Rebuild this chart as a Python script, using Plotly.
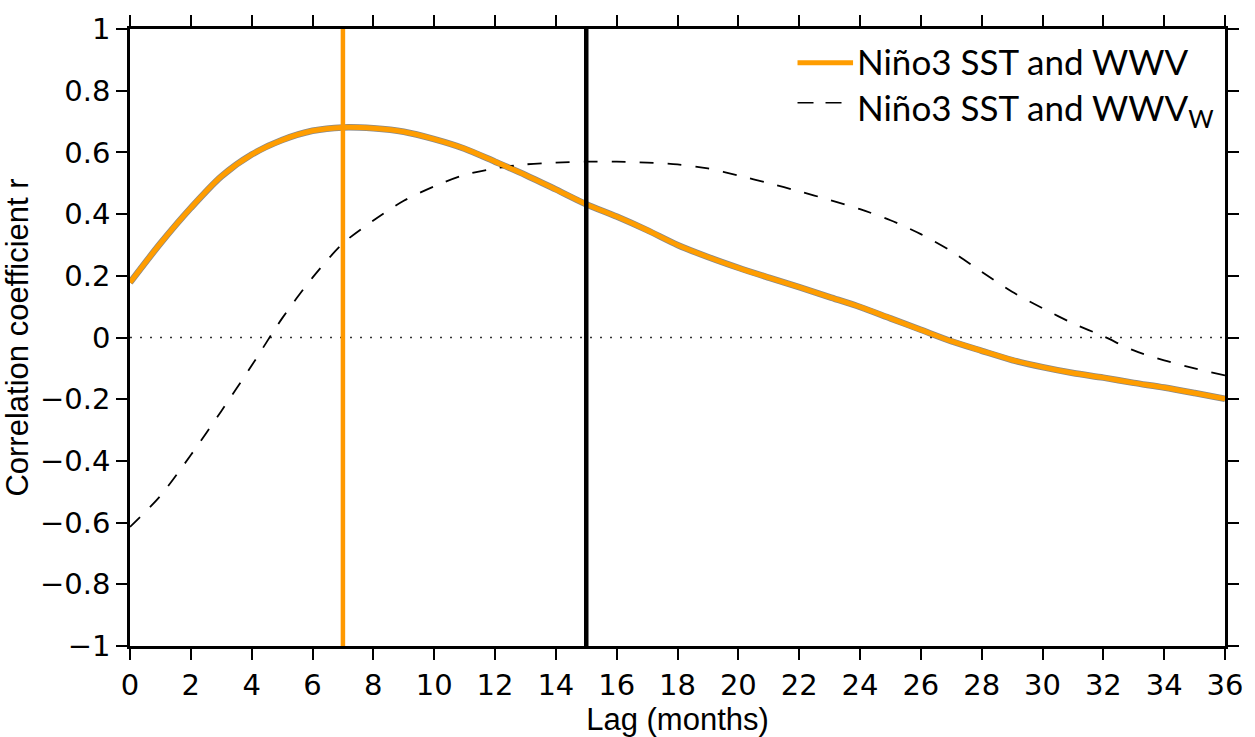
import plotly.graph_objects as go

# ---- data ----
lags = list(range(0, 37))
r_wwv = [0.178, 0.305, 0.42, 0.522, 0.593, 0.64, 0.67, 0.681, 0.678, 0.667,
         0.643, 0.612, 0.57, 0.527, 0.48, 0.432, 0.392, 0.348, 0.30, 0.261,
         0.226, 0.194, 0.163, 0.131, 0.099, 0.062, 0.025, -0.012, -0.043, -0.073,
         -0.096, -0.115, -0.13, -0.147, -0.162, -0.18, -0.199]
r_wwvw = [-0.614, -0.513, -0.381, -0.239, -0.091, 0.062, 0.194, 0.305, 0.379, 0.443,
          0.49, 0.527, 0.548, 0.561, 0.567, 0.57, 0.57, 0.567, 0.561, 0.548,
          0.525, 0.50, 0.474, 0.446, 0.416, 0.38, 0.335, 0.28, 0.213, 0.148,
          0.095, 0.046, 0.004, -0.042, -0.074, -0.100, -0.123]
peak_lag_wwv = 7
peak_lag_wwvw = 15
x_ticks = list(range(0, 37, 2))
y_ticks = [1, 0.8, 0.6, 0.4, 0.2, 0, -0.2, -0.4, -0.6, -0.8, -1]
y_tick_text = ["1", "0.8", "0.6", "0.4", "0.2", "0", "\u22120.2", "\u22120.4",
               "\u22120.6", "\u22120.8", "\u22121"]
legend_labels = ["Niño3 SST and WWV", "Niño3 SST and WWV<sub>W</sub>"]

ORANGE = "#FF9D00"
TICK_FONT = dict(family="DejaVu Sans, Liberation Sans, sans-serif", size=29, color="black")
TITLE_FONT = dict(family="Liberation Sans, Arial, sans-serif", size=31, color="black")

fig = go.Figure()

# zero reference line (dotted)
fig.add_trace(go.Scatter(x=[lags[0], lags[-1]], y=[0, 0], mode="lines",
                         line=dict(color="#333333", width=1.6, dash="2px,8px"),
                         showlegend=False, hoverinfo="skip"))

# dashed WWV_w curve
fig.add_trace(go.Scatter(x=lags, y=r_wwvw, mode="lines",
                         line=dict(color="black", width=1.8, dash="14px,14px",
                                   shape="spline", smoothing=0.8),
                         name=legend_labels[1], showlegend=False))

# orange WWV curve (with faint dark edge)
fig.add_trace(go.Scatter(x=lags, y=r_wwv, mode="lines",
                         line=dict(color="rgba(40,40,40,0.55)", width=6.5,
                                   shape="spline", smoothing=0.8),
                         showlegend=False, hoverinfo="skip"))
fig.add_trace(go.Scatter(x=lags, y=r_wwv, mode="lines",
                         line=dict(color=ORANGE, width=5,
                                   shape="spline", smoothing=0.8),
                         name=legend_labels[0], showlegend=False))

# vertical lag markers
fig.add_shape(type="line", x0=peak_lag_wwv, x1=peak_lag_wwv, y0=-1, y1=1,
              xref="x", yref="y", line=dict(color="#FF9900", width=4.5))
fig.add_shape(type="line", x0=peak_lag_wwvw, x1=peak_lag_wwvw, y0=-1, y1=1,
              xref="x", yref="y", line=dict(color="black", width=4.5))

# manual legend
L, W, B, H = 129, 1104, 648.5, 631
def px(x):
    return (x - L) / W
def py(y):
    return (B - y) / H

fig.add_shape(type="line", xref="paper", yref="paper",
              x0=px(802), x1=px(858), y0=py(52), y1=py(52),
              line=dict(color=ORANGE, width=5))
fig.add_shape(type="line", xref="paper", yref="paper",
              x0=px(802), x1=px(847), y0=py(93), y1=py(93),
              line=dict(color="black", width=1.6, dash="16px,12px"))
LEG_FONT = dict(family="Lato, Open Sans, sans-serif", size=35, color="black")
fig.add_annotation(x=px(860), y=py(50), xref="paper", yref="paper",
                   text=legend_labels[0], showarrow=False, xanchor="left",
                   yanchor="middle", font=LEG_FONT)
fig.add_annotation(x=px(860), y=py(74), xref="paper", yref="paper",
                   text=legend_labels[1], showarrow=False, xanchor="left",
                   yanchor="top", font=LEG_FONT)

axis_common = dict(showgrid=False, zeroline=False, showline=True, linecolor="black",
                   linewidth=2.5, mirror="allticks", ticks="outside", ticklen=11,
                   tickwidth=2, tickcolor="black", tickfont=TICK_FONT)

fig.update_xaxes(range=[0, 36], tickvals=x_ticks, ticktext=[str(v) for v in x_ticks],
                 title=dict(text="Lag (months)", font=TITLE_FONT, standoff=2),
                 **axis_common)
fig.update_yaxes(range=[-1, 1], tickvals=y_ticks, ticktext=y_tick_text,
                 ticklabelstandoff=0,
                 title=dict(text="Correlation coefficient r", font=TITLE_FONT, standoff=6),
                 **axis_common)

fig.update_layout(width=1255, height=737, plot_bgcolor="white", paper_bgcolor="white",
                  margin=dict(l=129, r=22, t=17, b=88), showlegend=False)

fig.write_html("out.html")
